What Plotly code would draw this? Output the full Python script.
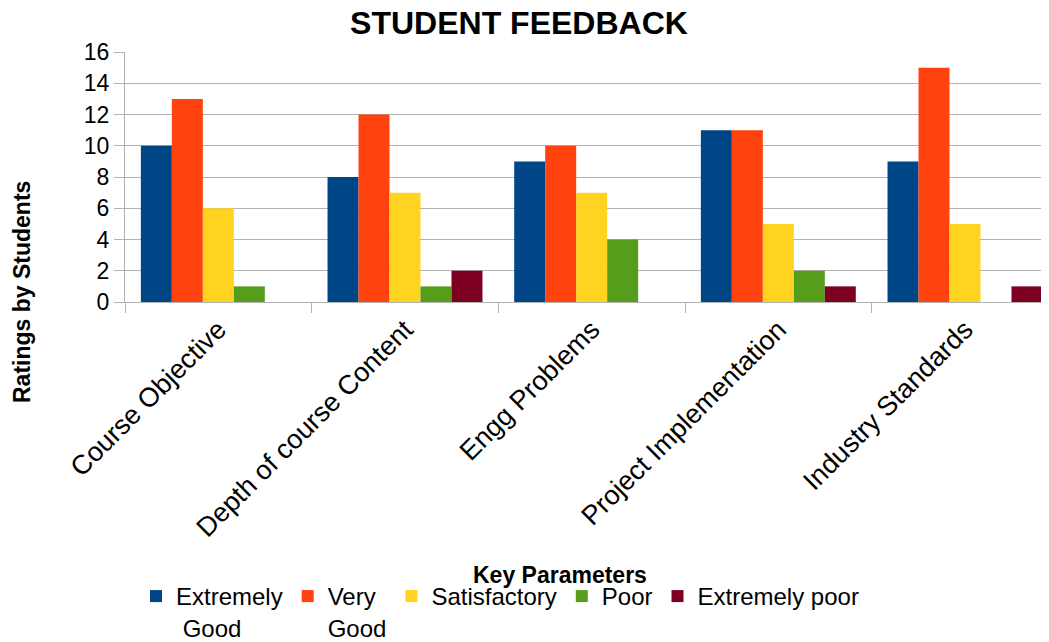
import plotly.graph_objects as go

categories = ["Course Objective", "Depth of course Content", "Engg Problems",
              "Project Implementation", "Industry Standards"]
series_names = ["Extremely<br> Good", "Very<br>Good", "Satisfactory", "Poor", "Extremely poor"]
extremely_good = [10, 8, 9, 11, 9]
very_good = [13, 12, 10, 11, 15]
satisfactory = [6, 7, 7, 5, 5]
poor = [1, 1, 4, 2, 0]
extremely_poor = [0, 2, 0, 1, 1]
colors = ["#004586", "#ff420e", "#ffd320", "#579d1c", "#7e0021"]
y_ticks = [0, 2, 4, 6, 8, 10, 12, 14, 16]

font_family = "Liberation Sans, Arial, sans-serif"

# figure is drawn inside the page body (8px default margin), so sizes are 8px smaller
W, H = 1041, 634
L, T, B = 117, 44, 340
PW, PH = W - L, H - T - B

fig = go.Figure()
for name, vals, col in zip(series_names,
                           [extremely_good, very_good, satisfactory, poor, extremely_poor],
                           colors):
    fig.add_trace(go.Bar(x=categories, y=vals, name=name, marker_color=col,
                         marker_line_width=0))

fig.update_layout(
    width=W, height=H,
    margin=dict(l=L, r=0, t=T, b=B, autoexpand=False),
    paper_bgcolor="white", plot_bgcolor="white",
    barmode="group", bargap=0.17, bargroupgap=0,
    font=dict(family=font_family, size=22, color="black"),
    title=dict(text="<b>STUDENT FEEDBACK</b>", x=511 / W, xanchor="center",
               xref="container", yref="container",
               y=1 - 15 / H, yanchor="middle",
               font=dict(size=32, family=font_family, color="black")),
    showlegend=True,
    legend=dict(orientation="h", xref="container", yref="container",
                x=128 / W, xanchor="left", y=(H - 566) / H, yanchor="top",
                valign="top",
                font=dict(size=24, family=font_family), traceorder="normal",
                itemwidth=30, tracegroupgap=0, bgcolor="rgba(0,0,0,0)"),
)
fig.update_xaxes(
    range=[-0.5, 4.45], tickangle=-45, tickson="boundaries",
    ticks="outside", ticklen=10, tickcolor="#b3b3b3",
    showline=True, linecolor="#b3b3b3", linewidth=1,
    showgrid=False, tickfont=dict(size=27), automargin=False,
)
fig.update_yaxes(
    range=[0, 16], tickvals=y_ticks, ticks="outside", ticklen=10,
    tickcolor="#b3b3b3", showline=True, linecolor="#b3b3b3",
    gridcolor="#b3b3b3", gridwidth=1, zeroline=False, tickfont=dict(size=23),
    automargin=False,
)
fig.add_annotation(text="<b>Ratings by Students</b>", xref="paper", yref="paper",
                   x=(14 - L) / PW, xanchor="center",
                   y=(PH + T - 284) / PH, yanchor="middle", textangle=-90,
                   showarrow=False, font=dict(size=23, family=font_family))
fig.add_annotation(text="<b>Key Parameters</b>", xref="paper", yref="paper",
                   x=(552 - L) / PW, y=(PH + T - 567) / PH, xanchor="center", yanchor="middle",
                   showarrow=False, font=dict(size=23, family=font_family))

fig.write_html("out.html")
